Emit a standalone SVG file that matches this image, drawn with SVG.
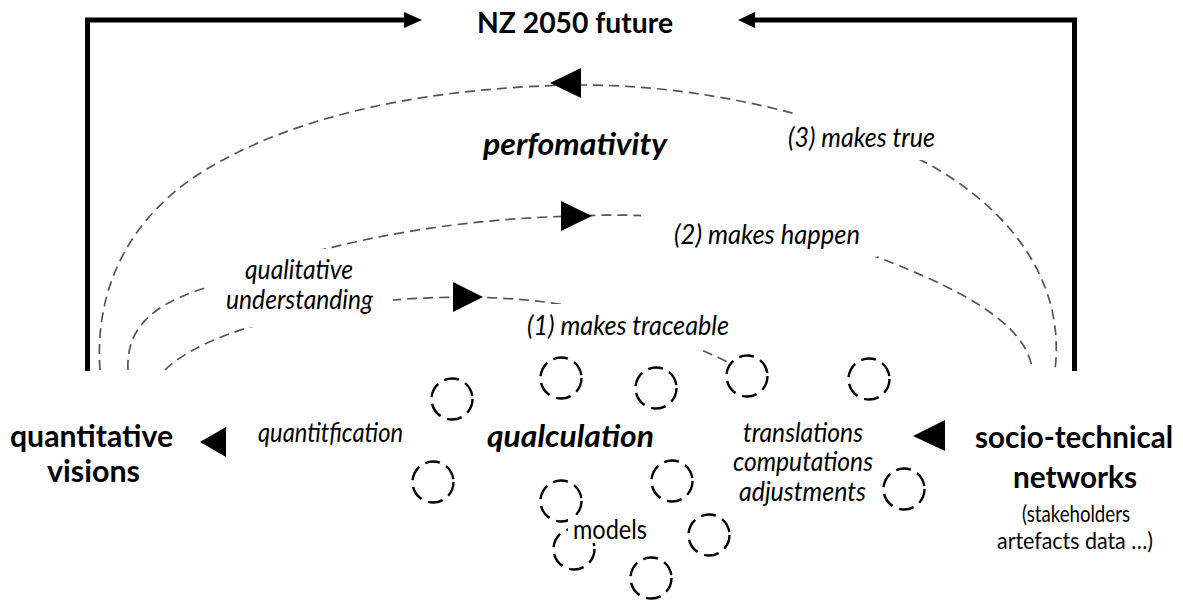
<svg xmlns="http://www.w3.org/2000/svg" width="1183" height="601" viewBox="0 0 1183 601">
<style>
  text { font-family: "Lato", "Liberation Sans", sans-serif; fill: #000; }
  .b { font-weight: 700; font-size: 31px; }
  .bt { font-weight: 700; font-size: 28px; }
  .bi { font-weight: 700; font-style: italic; font-size: 31px; }
  .i { font-style: italic; font-size: 26.5px; }
  .r { font-size: 26px; }
  .s { font-size: 23px; }
  .frame { fill: none; stroke: #000; stroke-width: 5; stroke-linejoin: miter; }
  .arc { fill: none; stroke: #555; stroke-width: 1.7; stroke-dasharray: 10 6; }
  .head { fill: #000; }
  .bg { fill: #fff; }
  .dc { fill: none; stroke: #000; stroke-width: 2.4; stroke-dasharray: 15 7; }
</style>
<rect width="1183" height="601" fill="#fff"/>

<g id="connectors">
  <g id="frame-left">
    <path class="frame" d="M 87.5 371 V 20 H 407"/>
    <polygon class="head" points="404,12 422,20 404,28"/>
  </g>
  <g id="frame-right">
    <path class="frame" d="M 1074.5 371 V 20 H 752"/>
    <polygon class="head" points="755,12 738,20 755,28"/>
  </g>
  <g id="arc3">
    <path class="arc" d="M 100 370 C 95 300, 120 230, 190 180 C 270 125, 400 88, 575 85 C 700 84, 820 115, 900 150 C 980 185, 1068 260, 1055 370"/>
    <polygon class="head" points="581,68 550,83 581,98"/>
  </g>
  <g id="arc2">
    <path class="arc" d="M 128 370 C 126 330, 150 305, 205 288 C 300 250, 420 220, 575 216 C 700 210, 820 235, 877 257 C 950 285, 1025 320, 1032 368"/>
    <polygon class="head" points="561,201 592,216 561,231"/>
  </g>
  <g id="arc1">
    <path class="arc" d="M 165 370 C 190 345, 250 322, 330 308 C 400 296, 480 294, 545 302 C 620 312, 680 340, 728 362"/>
    <polygon class="head" points="453,282 483,297 453,312"/>
  </g>
  <g id="arrow-quantification">
    <polygon class="head" points="200,442 226,427 226,457"/>
  </g>
  <g id="arrow-translations">
    <polygon class="head" points="913,436 945,420 945,451"/>
  </g>
</g>

<g id="node-future">
  <text class="bt" x="575" y="33" text-anchor="middle" textLength="196" lengthAdjust="spacingAndGlyphs">NZ 2050 future</text>
</g>

<g id="label-perfomativity">
  <text class="bi" x="575" y="155" text-anchor="middle" textLength="184" lengthAdjust="spacingAndGlyphs">perfomativity</text>
</g>

<g id="label-makes-true">
  <rect class="bg" x="783" y="114" width="157" height="46"/>
  <text class="i" x="861.5" y="147" text-anchor="middle" textLength="147" lengthAdjust="spacingAndGlyphs">(3) makes true</text>
</g>

<g id="label-makes-happen">
  <rect class="bg" x="641" y="203" width="236" height="54"/>
  <text class="i" x="767" y="244" text-anchor="middle" textLength="186" lengthAdjust="spacingAndGlyphs">(2) makes happen</text>
</g>

<g id="label-makes-traceable">
  <rect class="bg" x="520" y="304" width="220" height="46"/>
  <text class="i" x="628" y="335" text-anchor="middle" textLength="202" lengthAdjust="spacingAndGlyphs">(1) makes traceable</text>
</g>

<g id="label-qualitative-understanding">
  <rect class="bg" x="206" y="249" width="187" height="78"/>
  <text class="i" x="299" y="279" text-anchor="middle" textLength="108" lengthAdjust="spacingAndGlyphs">qualitative</text>
  <text class="i" x="299.5" y="309" text-anchor="middle" textLength="147" lengthAdjust="spacingAndGlyphs">understanding</text>
</g>

<g id="node-quantitative-visions">
  <text class="b" x="91.5" y="447" text-anchor="middle" textLength="163" lengthAdjust="spacingAndGlyphs">quantitative</text>
  <text class="b" x="93.5" y="482" text-anchor="middle" textLength="93" lengthAdjust="spacingAndGlyphs">visions</text>
</g>

<g id="label-quantification">
  <text class="i" x="330.5" y="442" text-anchor="middle" textLength="145" lengthAdjust="spacingAndGlyphs">quantitfication</text>
</g>

<g id="node-qualculation">
  <g id="circles">
    <circle class="dc" cx="452" cy="399" r="20.5"/>
    <circle class="dc" cx="561" cy="378" r="20.5"/>
    <circle class="dc" cx="656" cy="388" r="20.5"/>
    <circle class="dc" cx="747" cy="376" r="20.5"/>
    <circle class="dc" cx="869" cy="379" r="20.5"/>
    <circle class="dc" cx="433" cy="482" r="20.5"/>
    <circle class="dc" cx="672" cy="481" r="20.5"/>
    <circle class="dc" cx="561" cy="501" r="20.5"/>
    <circle class="dc" cx="574" cy="549" r="20.5"/>
    <circle class="dc" cx="709" cy="535" r="20.5"/>
    <circle class="dc" cx="651" cy="578" r="20.5"/>
    <circle class="dc" cx="904" cy="489" r="20.5"/>
  </g>
  <text class="bi" x="570.5" y="447" text-anchor="middle" textLength="167" lengthAdjust="spacingAndGlyphs">qualculation</text>
  <g id="label-models">
    <rect class="bg" x="568" y="515" width="84" height="28"/>
    <text class="r" x="610" y="539" text-anchor="middle" textLength="74" lengthAdjust="spacingAndGlyphs">models</text>
  </g>
</g>

<g id="label-translations">
  <text class="i" x="803" y="442" text-anchor="middle" textLength="120" lengthAdjust="spacingAndGlyphs">translations</text>
  <text class="i" x="803" y="471" text-anchor="middle" textLength="140" lengthAdjust="spacingAndGlyphs">computations</text>
  <text class="i" x="802.5" y="501" text-anchor="middle" textLength="127" lengthAdjust="spacingAndGlyphs">adjustments</text>
</g>

<g id="node-socio-technical-networks">
  <text class="b" x="1074" y="448" text-anchor="middle" textLength="198" lengthAdjust="spacingAndGlyphs">socio-technical</text>
  <text class="b" x="1075" y="488" text-anchor="middle" textLength="124" lengthAdjust="spacingAndGlyphs">networks</text>
  <text class="s" x="1076" y="522" text-anchor="middle" textLength="108" lengthAdjust="spacingAndGlyphs">(stakeholders</text>
  <text class="s" x="1075" y="549" text-anchor="middle" textLength="156" lengthAdjust="spacingAndGlyphs">artefacts data …)</text>
</g>
</svg>
